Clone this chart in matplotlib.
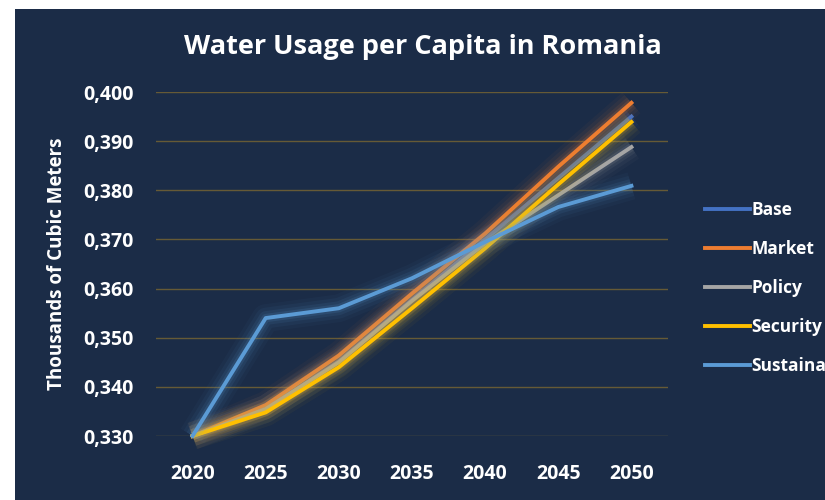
import matplotlib.pyplot as plt
from matplotlib.ticker import FuncFormatter

# data
years = [2020, 2025, 2030, 2035, 2040, 2045, 2050]
base = [0.330, 0.3355, 0.3452, 0.3577, 0.3700, 0.3825, 0.3950]
market = [0.330, 0.3363, 0.3464, 0.3590, 0.3712, 0.3848, 0.3978]
policy = [0.330, 0.3355, 0.3450, 0.3575, 0.3692, 0.3790, 0.3888]
security = [0.330, 0.3348, 0.3440, 0.3560, 0.3682, 0.3812, 0.3939]
sustain = [0.330, 0.3540, 0.3560, 0.3621, 0.3695, 0.3766, 0.3809]

series = [
    ("Base", base, "#4472C4"),
    ("Market", market, "#ED7D31"),
    ("Policy", policy, "#A5A5A5"),
    ("Security", security, "#FFC000"),
    ("Sustainability", sustain, "#5B9BD5"),
]

bg = "#1b2c47"
fontname = "Open Sans"

fig = plt.figure(figsize=(8.25, 5), dpi=100, facecolor="white")
# dark panel, leaving the thin white margin at left and top
bgax = fig.add_axes([15 / 825, 0, 810 / 825, 491 / 500], zorder=-1)
bgax.set_facecolor(bg)
bgax.set_xticks([])
bgax.set_yticks([])
for s in bgax.spines.values():
    s.set_visible(False)

ax = fig.add_axes([156 / 825, 64 / 500, 512 / 825, 344 / 500])
ax.set_facecolor("none")

for name, vals, col in series:
    # soft glow behind each line
    for w, a in [(20, 0.04), (15, 0.06), (10, 0.09), (6, 0.14)]:
        ax.plot(years, vals, color=col, lw=w, alpha=a, solid_capstyle="butt",
                solid_joinstyle="round", clip_on=False)
    ax.plot(years, vals, color=col, lw=2.8, label=name, solid_joinstyle="round",
            clip_on=False)

ax.set_xlim(2017.5, 2052.5)
ax.set_ylim(0.330, 0.400)
ax.set_xticks(years)
ax.set_yticks([0.33 + 0.01 * i for i in range(8)])
ax.yaxis.set_major_formatter(FuncFormatter(lambda v, p: f"{v:.3f}".replace(".", ",")))
ax.grid(axis="y", color="#665a36", lw=1.0)
ax.set_axisbelow(True)
for s in ax.spines.values():
    s.set_visible(False)
ax.tick_params(length=0, colors="white", labelsize=14)
ax.tick_params(axis="y", pad=16)
ax.tick_params(axis="x", pad=20)
for lab in ax.get_xticklabels() + ax.get_yticklabels():
    lab.set_fontname(fontname)
    lab.set_fontweight("bold")

ax.set_ylabel("Thousands of Cubic Meters", color="white", fontsize=13.5,
              fontname=fontname, fontweight="bold", labelpad=12)

fig.text(0.512, 0.905, "Water Usage per Capita in Romania", color="white",
         fontsize=19.5, fontname=fontname, fontweight="bold",
         ha="center", va="center")

leg = ax.legend(loc="center left", bbox_to_anchor=(1.072, 0.43), frameon=False,
                handlelength=2.6, handletextpad=0.1, labelspacing=1.2,
                borderpad=0.0, borderaxespad=0.0,
                prop={"family": fontname, "size": 12.5, "weight": "bold"})
for t in leg.get_texts():
    t.set_color("white")

fig.savefig("out.png", dpi=100, facecolor="white")
